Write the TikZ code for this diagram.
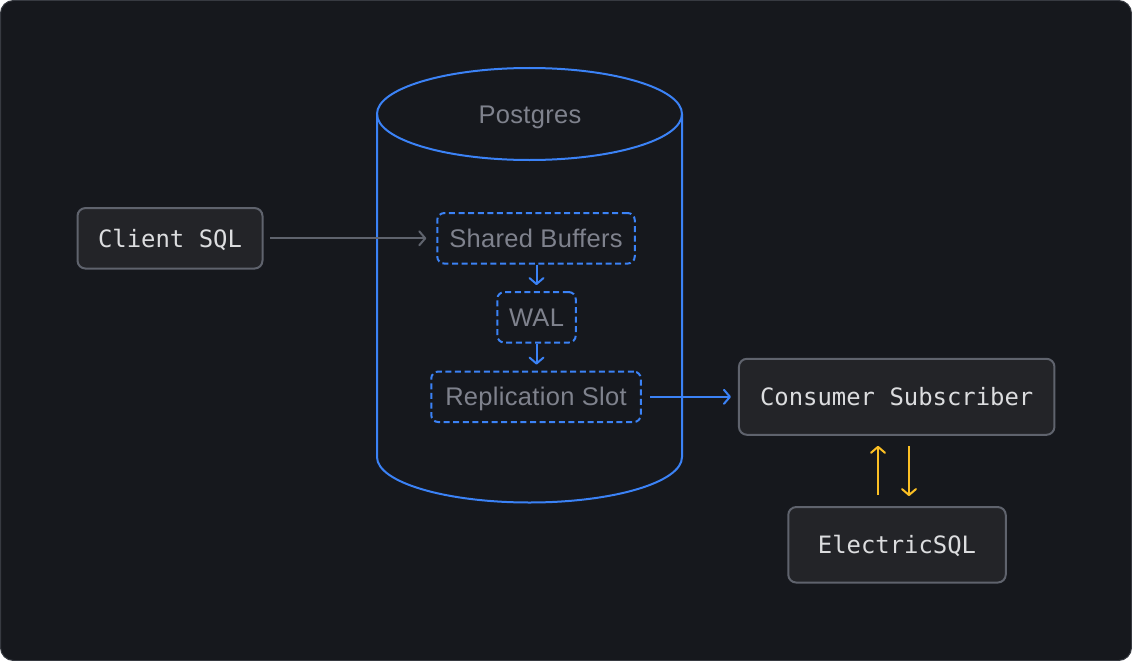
\documentclass[tikz,border=0pt]{standalone}
\usepackage{fontspec}
\setmainfont[LetterSpace=1.2]{Liberation Sans}
\newfontfamily\monof{DejaVu Sans Mono}
\usetikzlibrary{arrows.meta}
\definecolor{pagebg}{HTML}{16181D}
\definecolor{boxfill}{HTML}{232428}
\definecolor{boxline}{HTML}{5F636D}
\definecolor{blueline}{HTML}{3B82F6}
\definecolor{yellowline}{HTML}{FBBF24}
\definecolor{monotext}{HTML}{DCDDDF}
\definecolor{sanstext}{HTML}{7F828D}
\tikzset{
  solidbox/.style={draw=boxline,fill=boxfill,line width=2pt,rounded corners=8pt,inner sep=0pt,
    text=monotext,font=\monof\fontsize{23.9}{28}\selectfont,text height=17.4pt,text depth=0pt},
  dashbox/.style={draw=blueline,line width=2pt,rounded corners=7pt,inner sep=0pt,
    dash pattern=on 6pt off 3.6pt,text=sanstext,font=\fontsize{25.5}{30}\selectfont,text height=18.3pt,text depth=0pt},
  conn/.style={line width=2pt,-{Straight Barb[length=6pt,width=14pt,line width=2pt,round]}},
  grayconn/.style={conn,draw=boxline},
  blueconn/.style={conn,draw=blueline},
  yellowconn/.style={conn,draw=yellowline},
}
\begin{document}
\begin{tikzpicture}[x=1pt,y=-1pt]
\useasboundingbox (0,0) rectangle (1132,661);
\fill[white] (0,0) rectangle (1132,661);
\draw[fill=pagebg,draw=boxline!45!pagebg,line width=1pt,rounded corners=13pt] (0.5,0.5) rectangle (1131.5,660.5);
% cylinder
\draw[blueline,line width=2pt] (377,114) -- (377,457) arc[start angle=180,end angle=360,x radius=152.5,y radius=-45.5] -- (682,114);
\draw[blueline,line width=2pt] (529.5,114) ellipse[x radius=152.5,y radius=46];
\node[text=sanstext,font=\fontsize{25.5}{30}\selectfont,inner sep=0pt,text height=18.3pt,text depth=0pt] (pg) at (530,114.5) {Postgres};
% nodes
\node[solidbox,minimum width=185pt,minimum height=60.5pt] (client) at (170,238.3) {Client SQL};
\node[dashbox,minimum width=197.5pt,minimum height=50.5pt] (shared) at (536,238.3) {Shared Buffers};
\node[dashbox,minimum width=78.5pt,minimum height=50.5pt] (wal) at (536.5,317.3) {WAL};
\node[dashbox,minimum width=209.5pt,minimum height=50.5pt] (slot) at (536,396.8) {Replication Slot};
\node[solidbox,minimum width=315.5pt,minimum height=76pt] (cons) at (896.7,396.8) {Consumer Subscriber};
\node[solidbox,minimum width=217.5pt,minimum height=75.5pt] (elec) at (897,544.8) {ElectricSQL};
% connectors
\draw[grayconn,shorten <=6.5pt,shorten >=10pt] (client.east) -- (shared.west);
\coordinate (mx) at (536.5,300);
\draw[blueconn,shorten >=6pt] (mx |- shared.south) -- (mx |- wal.north);
\draw[blueconn,shorten >=6pt] (mx |- wal.south) -- (mx |- slot.north);
\draw[blueconn,shorten <=8.5pt,shorten >=7pt] (slot.east) -- (slot.east -| cons.west);
\coordinate (ux) at (878,470);
\coordinate (dx) at (909,470);
\draw[yellowconn,shorten <=11pt,shorten >=10pt] (ux |- elec.north) -- (ux |- cons.south);
\draw[yellowconn,shorten <=10.5pt,shorten >=10pt] (dx |- cons.south) -- (dx |- elec.north);
\end{tikzpicture}
\end{document}
